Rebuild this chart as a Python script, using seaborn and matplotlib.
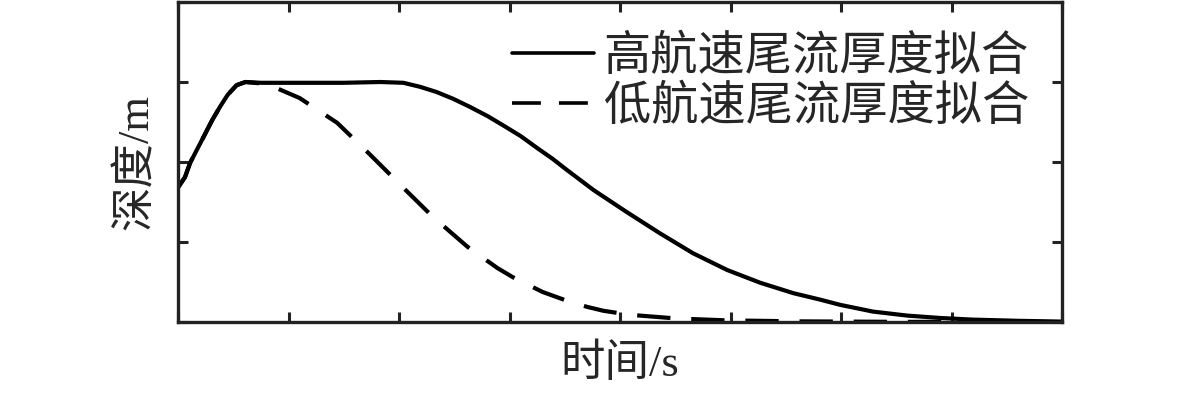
import matplotlib
matplotlib.use('Agg')
import matplotlib.pyplot as plt
import numpy as np
import pandas as pd
import seaborn as sns

# values (x: time, y: depth, arbitrary units)
high_x = [0, 0.063, 0.11, 0.17, 0.23, 0.31, 0.38, 0.45, 0.53, 0.61, 0.75, 1.0, 1.5, 1.83, 2.04,
          2.19, 2.34, 2.49, 2.64, 2.80, 2.94, 3.10, 3.25, 3.39, 3.52, 3.76, 4.06, 4.36, 4.66,
          4.97, 5.27, 5.57, 5.81, 5.99, 6.29, 6.60, 6.90, 7.19, 7.6, 8.0]
high_y = [1.68, 1.81, 1.99, 2.15, 2.31, 2.525, 2.69, 2.84, 2.96, 3.0, 2.99, 2.99, 2.99, 3.0, 2.99,
          2.94, 2.875, 2.79, 2.69, 2.575, 2.46, 2.325, 2.175, 2.04, 1.90, 1.65, 1.375, 1.11, 0.86,
          0.65, 0.49, 0.36, 0.28, 0.215, 0.13, 0.08, 0.05, 0.03, 0.015, 0.005]

low_x = [0, 0.063, 0.11, 0.17, 0.23, 0.31, 0.38, 0.45, 0.53, 0.61, 0.805, 1.10, 1.44, 1.74, 2.03,
         2.31, 2.62, 2.89, 3.03, 3.30, 3.55, 3.70, 3.85, 4.09, 4.50, 4.97, 5.63, 6.5, 8.0]
low_y = [1.68, 1.81, 1.99, 2.15, 2.31, 2.525, 2.69, 2.84, 2.96, 3.0, 2.975, 2.80, 2.49, 2.09, 1.69,
         1.31, 0.94, 0.675, 0.56, 0.375, 0.25, 0.19, 0.14, 0.09, 0.045, 0.02, 0.008, 0.002, 0.0]

labels = ['高航速尾流厚度拟合', '低航速尾流厚度拟合']
xlabel = '时间/s'
ylabel = '深度/m'

sns.set_theme(style='white')
plt.rcParams['font.family'] = ['Liberation Serif', 'Noto Sans CJK SC']
plt.rcParams['axes.unicode_minus'] = False

fig = plt.figure(figsize=(11.81, 3.96), dpi=100)
ax = fig.add_axes([178 / 1181, 74 / 396, 884 / 1181, 320 / 396])

df_high = pd.DataFrame({'t': high_x, 'd': high_y})
df_low = pd.DataFrame({'t': low_x, 'd': low_y})

sns.lineplot(data=df_high, x='t', y='d', ax=ax, color='black', lw=3.0,
             estimator=None, sort=False, label=labels[0])
sns.lineplot(data=df_low, x='t', y='d', ax=ax, color='black', lw=3.0,
             linestyle=(0, (8.0, 5.0)), estimator=None, sort=False, label=labels[1])

ax.set_xlim(0, 8)
ax.set_ylim(0, 4)
ax.set_xticks(np.arange(0, 9, 1))
ax.set_yticks(np.arange(0, 5, 1))
ax.set_xticklabels([])
ax.set_yticklabels([])
ax.tick_params(direction='in', length=7, width=2.2, color='#222222',
               top=True, right=True, bottom=True, left=True)
for sp in ax.spines.values():
    sp.set_visible(True)
    sp.set_linewidth(2.4)
    sp.set_color('#222222')

ax.set_xlabel(xlabel, fontsize=32, labelpad=12)
ax.set_ylabel(ylabel, fontsize=32, labelpad=12)

leg = ax.legend(loc='upper right', frameon=False, fontsize=34,
                handlelength=1.75, handletextpad=0.2, labelspacing=0.12,
                borderaxespad=0.3, bbox_to_anchor=(1.0, 1.0))
for h in leg.get_lines():
    h.set_linewidth(2.6)

fig.savefig('out.png', dpi=100)
